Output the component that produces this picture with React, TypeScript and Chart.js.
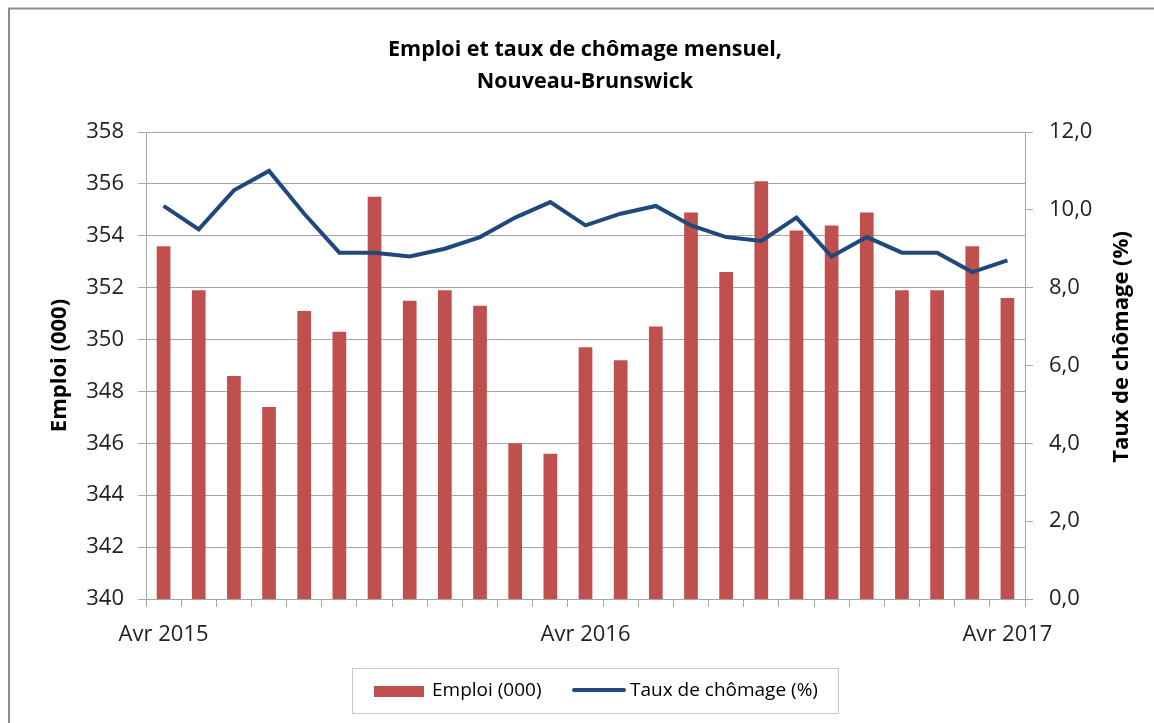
import React, { useEffect, useRef } from "react";
import { Chart, registerables } from "chart.js";

Chart.register(...registerables);

const months = [
  "Avr 2015", "Mai 2015", "Juin 2015", "Juil 2015", "Août 2015", "Sep 2015", "Oct 2015", "Nov 2015", "Déc 2015",
  "Jan 2016", "Fév 2016", "Mar 2016", "Avr 2016", "Mai 2016", "Juin 2016", "Juil 2016", "Août 2016", "Sep 2016",
  "Oct 2016", "Nov 2016", "Déc 2016", "Jan 2017", "Fév 2017", "Mar 2017", "Avr 2017",
];
const labelledMonths = [0, 12, 24];
const emploi = [
  353.6, 351.9, 348.6, 347.4, 351.1, 350.3, 355.5, 351.5, 351.9, 351.3, 346.0, 345.6,
  349.7, 349.2, 350.5, 354.9, 352.6, 356.1, 354.2, 354.4, 354.9, 351.9, 351.9, 353.6, 351.6,
];
const chomage = [
  10.1, 9.5, 10.5, 11.0, 9.9, 8.9, 8.9, 8.8, 9.0, 9.3, 9.8, 10.2,
  9.6, 9.9, 10.1, 9.6, 9.3, 9.2, 9.8, 8.8, 9.3, 8.9, 8.9, 8.4, 8.7,
];
const titleLines = ["Emploi et taux de chômage mensuel,", "Nouveau-Brunswick"];
const leftTitle = "Emploi (000)";
const rightTitle = "Taux de chômage (%)";
const leftMin = 340, leftMax = 358, leftStep = 2;
const rightMin = 0, rightMax = 12, rightStep = 2;

const FONT = "'Open Sans', 'Noto Sans', sans-serif";
const RED = "#C0504D";
const BLUE = "#1F497D";
const GRID = "#a6a6a6";

const decorPlugin = {
  id: "decor",
  beforeDraw(chart: any) {
    const ctx = chart.ctx;
    ctx.save();
    ctx.fillStyle = "#ffffff";
    ctx.fillRect(0, 0, chart.width, chart.height);
    ctx.restore();
  },
  afterDraw(chart: any) {
    const ctx = chart.ctx;
    ctx.save();
    // outer frame
    ctx.strokeStyle = "#8c8c8c";
    ctx.lineWidth = 2;
    ctx.strokeRect(9, 8.5, 3000, 3000);
    // title
    ctx.fillStyle = "#000";
    ctx.font = `bold 21.5px ${FONT}`;
    ctx.textAlign = "center";
    ctx.textBaseline = "alphabetic";
    ctx.fillText(titleLines[0], 585, 56);
    ctx.fillText(titleLines[1], 585, 88);
    // axis titles
    ctx.font = `bold 22px ${FONT}`;
    ctx.textBaseline = "middle";
    ctx.save();
    ctx.translate(60, 365.5);
    ctx.rotate(-Math.PI / 2);
    ctx.fillText(leftTitle, 0, 0);
    ctx.restore();
    ctx.save();
    ctx.translate(1122, 347);
    ctx.rotate(-Math.PI / 2);
    ctx.fillText(rightTitle, 0, 0);
    ctx.restore();
    // legend
    const ds = chart.data.datasets;
    ctx.strokeStyle = "#c8c8c8";
    ctx.lineWidth = 1;
    ctx.strokeRect(352.5, 668.5, 486, 45);
    ctx.fillStyle = ds[0].backgroundColor;
    ctx.fillRect(374, 686, 50, 11);
    ctx.fillStyle = "#000";
    ctx.textAlign = "left";
    ctx.textBaseline = "middle";
    ctx.font = `19px ${FONT}`;
    ctx.fillText(ds[0].label, 432, 691);
    ctx.strokeStyle = ds[1].borderColor;
    ctx.lineWidth = 4;
    ctx.lineCap = "round";
    ctx.beginPath();
    ctx.moveTo(574, 690);
    ctx.lineTo(624, 690);
    ctx.stroke();
    ctx.fillText(ds[1].label, 630, 691);
    ctx.restore();
  },
};

export default function App() {
  const ref = useRef<HTMLCanvasElement | null>(null);
  useEffect(() => {
    if (!ref.current) return;
    const chart = new Chart(ref.current, {
      type: "bar",
      data: {
        labels: months,
        datasets: [
          {
            type: "bar",
            label: "Emploi (000)",
            data: emploi,
            backgroundColor: RED,
            yAxisID: "y",
            barPercentage: 0.39,
            categoryPercentage: 1,
            order: 2,
          },
          {
            type: "line",
            label: "Taux de chômage (%)",
            data: chomage,
            borderColor: BLUE,
            backgroundColor: BLUE,
            borderWidth: 4,
            pointRadius: 0,
            tension: 0,
            yAxisID: "y1",
            order: 1,
          } as any,
        ],
      },
      options: {
        responsive: false,
        animation: false,
        layout: { padding: { top: 132, bottom: 74, left: 0, right: 0 } },
        plugins: {
          legend: { display: false },
          title: { display: false },
          tooltip: { enabled: false },
        },
        scales: {
          x: {
            offset: true,
            grid: { offset: true, drawOnChartArea: false, tickLength: 8, color: GRID },
            border: { color: GRID },
            ticks: {
              autoSkip: false,
              maxRotation: 0,
              padding: 15,
              color: "#222",
              font: { family: FONT, size: 22 },
              callback: (_v: any, i: number) => (labelledMonths.includes(i) ? months[i] : ""),
            },
            afterFit: (s: any) => { s.height = 50; },
          },
          y: {
            position: "left",
            min: leftMin,
            max: leftMax,
            ticks: { stepSize: leftStep, padding: 14, color: "#222", font: { family: FONT, size: 22 } },
            grid: { color: GRID, tickLength: 8 },
            border: { color: GRID },
            afterFit: (s: any) => { s.width = 146; },
          },
          y1: {
            position: "right",
            min: rightMin,
            max: rightMax,
            ticks: {
              stepSize: rightStep,
              padding: 16,
              color: "#222",
              font: { family: FONT, size: 22 },
              callback: (v: any) => Number(v).toFixed(1).replace(".", ","),
            },
            grid: { drawOnChartArea: false, color: GRID, tickLength: 8 },
            border: { color: GRID },
            afterFit: (s: any) => { s.width = 129; },
          },
        },
      } as any,
      plugins: [decorPlugin],
    });
    return () => chart.destroy();
  }, []);
  return (
    <div style={{ position: "fixed", left: 0, top: 0, width: 1154, height: 723, background: "#fff" }}>
      <canvas ref={ref} width={1154} height={723} style={{ display: "block" }} />
    </div>
  );
}
